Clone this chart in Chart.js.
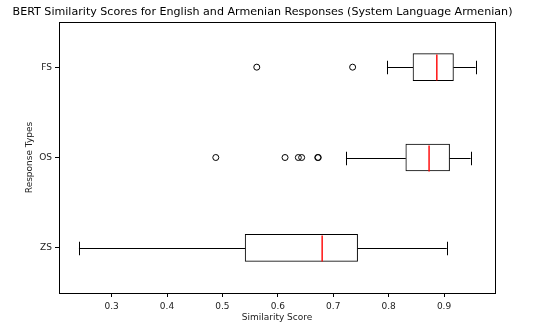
<!DOCTYPE html>
<html>
<head>
<meta charset="utf-8">
<script src="https://cdn.jsdelivr.net/npm/chart.js@4.4.1/dist/chart.umd.min.js"></script>
<style>
  html, body { margin: 0; padding: 0; background: #fff; }
  #wrap { width: 548px; height: 326px; }
</style>
</head>
<body>
<div id="wrap"><canvas id="chart"></canvas></div>
<script>
const categories = ['FS', 'OS', 'ZS'];
const whiskerLow = [0.797, 0.723, 0.241];
const q1 = [0.844, 0.831, 0.541];
const median = [0.887, 0.873, 0.680];
const q3 = [0.917, 0.910, 0.744];
const whiskerHigh = [0.957, 0.948, 0.905];
const outliersFS = [0.562, 0.735];
const outliersOS = [0.488, 0.613, 0.637, 0.643, 0.672, 0.673];
const outliersZS = [];
const xTicks = [0.3, 0.4, 0.5, 0.6, 0.7, 0.8, 0.9];

const FONT = 'DejaVu Sans';
const titleText = 'BERT Similarity Scores for English and Armenian Responses (System Language Armenian)';

const outlierPoints = [];
[outliersFS, outliersOS, outliersZS].forEach((list, i) => {
  list.forEach(v => outlierPoints.push({ x: v, y: categories[i] }));
});

// whiskers, caps, medians, frame and title
const boxExtras = {
  id: 'boxExtras',
  afterDatasetsDraw(chart) {
    const { ctx, scales: { x, y } } = chart;
    const half = 27 / 2;
    ctx.save();
    categories.forEach((c, i) => {
      const cy = Math.round(y.getPixelForValue(i)) + 0.5;
      ctx.lineWidth = 1;
      ctx.strokeStyle = '#000';
      ctx.beginPath();
      ctx.moveTo(x.getPixelForValue(whiskerLow[i]), cy);
      ctx.lineTo(x.getPixelForValue(q1[i]), cy);
      ctx.moveTo(x.getPixelForValue(q3[i]), cy);
      ctx.lineTo(x.getPixelForValue(whiskerHigh[i]), cy);
      const lo = Math.round(x.getPixelForValue(whiskerLow[i])) + 0.5;
      const hi = Math.round(x.getPixelForValue(whiskerHigh[i])) + 0.5;
      ctx.moveTo(lo, cy - half / 2);
      ctx.lineTo(lo, cy + half / 2);
      ctx.moveTo(hi, cy - half / 2);
      ctx.lineTo(hi, cy + half / 2);
      ctx.stroke();
    });
    categories.forEach((c, i) => {
      const cy = Math.round(y.getPixelForValue(i)) + 0.5;
      const mx = x.getPixelForValue(median[i]);
      ctx.lineWidth = 1.4;
      ctx.strokeStyle = 'rgb(255,0,0)';
      ctx.beginPath();
      ctx.moveTo(mx, cy - half + 0.5);
      ctx.lineTo(mx, cy + half - 0.5);
      ctx.stroke();
    });
    const a = chart.chartArea;
    ctx.lineWidth = 1;
    ctx.strokeStyle = '#000';
    ctx.strokeRect(Math.round(a.left) + 0.5, Math.round(a.top) + 0.5,
      Math.round(a.right - a.left), Math.round(a.bottom - a.top));
    ctx.fillStyle = '#000';
    ctx.font = '11.1px "' + FONT + '"';
    ctx.textAlign = 'center';
    ctx.textBaseline = 'alphabetic';
    ctx.fillText(titleText, 262.5, 15);
    ctx.restore();
  }
};

new Chart(document.getElementById('chart'), {
  data: {
    labels: categories,
    datasets: [
      {
        type: 'bar',
        data: categories.map((c, i) => [q1[i], q3[i]]),
        backgroundColor: '#ffffff',
        borderColor: '#000000',
        borderWidth: 1,
        borderSkipped: false,
        barThickness: 27,
        order: 2
      },
      {
        type: 'scatter',
        data: outlierPoints,
        pointRadius: 3,
        pointBorderWidth: 1,
        pointBorderColor: '#000000',
        pointBackgroundColor: 'rgba(0,0,0,0)',
        order: 1
      }
    ]
  },
  options: {
    indexAxis: 'y',
    responsive: true,
    maintainAspectRatio: false,
    animation: false,
    layout: { padding: { top: 22, right: 53, left: 0, bottom: 0 } },
    plugins: {
      legend: { display: false },
      tooltip: { enabled: false },
      title: { display: false }
    },
    scales: {
      x: {
        type: 'linear',
        min: 0.205,
        max: 0.992,
        afterBuildTicks: scale => { scale.ticks = xTicks.map(v => ({ value: v })); },
        afterFit: scale => { scale.height = 33; },
        grid: { drawOnChartArea: false, drawTicks: true, tickLength: 4, color: '#000' },
        border: { display: false },
        ticks: {
          font: { family: FONT, size: 9 },
          color: '#222',
          padding: 4,
          maxRotation: 0,
          callback: v => v.toFixed(1)
        },
        title: {
          display: true,
          text: 'Similarity Score',
          font: { family: FONT, size: 9 },
          color: '#222',
          padding: { top: 0, bottom: 3 }
        }
      },
      y: {
        type: 'category',
        offset: true,
        afterFit: scale => { scale.width = 59; },
        grid: { drawOnChartArea: false, drawTicks: true, tickLength: 4, color: '#000', offset: false },
        border: { display: false },
        ticks: {
          font: { family: FONT, size: 9 },
          color: '#222',
          padding: 3
        },
        title: {
          display: true,
          text: 'Response Types',
          font: { family: FONT, size: 9 },
          color: '#222',
          padding: { top: 24, bottom: 0 }
        }
      }
    }
  },
  plugins: [boxExtras]
});
</script>
</body>
</html>
